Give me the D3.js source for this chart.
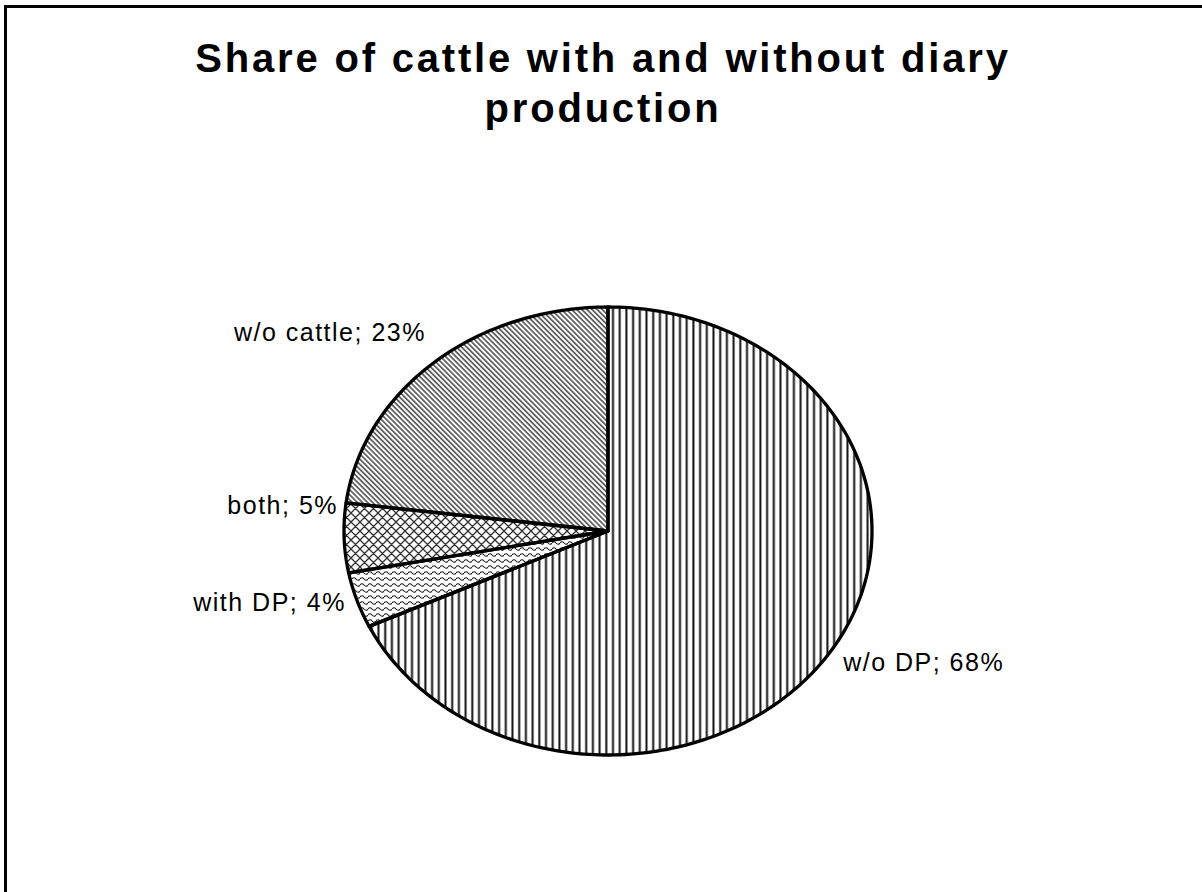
<!DOCTYPE html>
<html>
<head>
<meta charset="utf-8">
<script src="https://cdn.jsdelivr.net/npm/d3@7"></script>
<style>
  body { margin: 0; background: #fff; }
  svg { display: block; }
</style>
</head>
<body>
<div id="chart"></div>
<script>
// data
var categories = ["w/o DP", "with DP", "both", "w/o cattle"];
var shares = [68, 4, 5, 23];
var fills = ["url(#vert)", "url(#wave)", "url(#cross)", "url(#diag)"];
var titleLines = ["Share of cattle with and without diary", "production"];

var width = 1202, height = 892;

var svg = d3.select("#chart")
            .append("svg")
            .attr("width", width)
            .attr("height", height);

var defs = svg.append("defs");

// vertical lines
var p1 = defs.append("pattern").attr("id", "vert")
  .attr("patternUnits", "userSpaceOnUse").attr("width", 6.7).attr("height", 10);
p1.append("rect").attr("width", 6.7).attr("height", 10).attr("fill", "#fff");
p1.append("line").attr("x1", 3.3).attr("x2", 3.3).attr("y1", 0).attr("y2", 10)
  .attr("stroke", "#111").attr("stroke-width", 2);

// fine diagonal "\" lines
var p2 = defs.append("pattern").attr("id", "diag")
  .attr("patternUnits", "userSpaceOnUse").attr("width", 3.6).attr("height", 10)
  .attr("patternTransform", "rotate(-45)");
p2.append("rect").attr("width", 3.6).attr("height", 10).attr("fill", "#fff");
p2.append("line").attr("x1", 1.8).attr("x2", 1.8).attr("y1", 0).attr("y2", 10)
  .attr("stroke", "#444").attr("stroke-width", 1.5);

// diagonal cross hatch
var p3 = defs.append("pattern").attr("id", "cross")
  .attr("patternUnits", "userSpaceOnUse").attr("width", 9).attr("height", 9);
p3.append("rect").attr("width", 9).attr("height", 9).attr("fill", "#fff");
p3.append("path").attr("d", "M0,0L9,9M9,0L0,9M-1,8L1,10M8,-1L10,1M-1,1L1,-1M8,10L10,8")
  .attr("stroke", "#333").attr("stroke-width", 1.3).attr("fill", "none");

// waves
var p4 = defs.append("pattern").attr("id", "wave")
  .attr("patternUnits", "userSpaceOnUse").attr("width", 8).attr("height", 6);
p4.append("rect").attr("width", 8).attr("height", 6).attr("fill", "#fff");
p4.append("path").attr("d", "M0,3Q2,0.5 4,3T8,3")
  .attr("stroke", "#222").attr("stroke-width", 1.2).attr("fill", "none");

// frame
svg.append("rect")
  .attr("x", 5.5).attr("y", 6.5)
  .attr("width", width + 20).attr("height", height + 20)
  .attr("fill", "none").attr("stroke", "#000").attr("stroke-width", 3);

// title
svg.append("g").selectAll("text")
  .data(titleLines)
  .enter().append("text")
  .attr("x", 603)
  .attr("y", function(d, i) { return 72 + i * 50; })
  .attr("text-anchor", "middle")
  .style("font-family", "'Liberation Sans', Arial, sans-serif")
  .style("font-weight", "bold")
  .style("font-size", "40px")
  .style("letter-spacing", "2.8px")
  .text(function(d) { return d; });

// pie (an ellipse in the original)
var cx = 608, cy = 531, rx = 264, ry = 224;

var pie = d3.pie().sort(null).value(function(d) { return d; });
var arcs = pie(shares);

function ellPt(a, k) {
  k = k || 1;
  return [cx + rx * k * Math.sin(a), cy - ry * k * Math.cos(a)];
}

var line = d3.line();

function slicePath(d) {
  var n = Math.max(2, Math.ceil((d.endAngle - d.startAngle) / 0.02));
  var pts = [[cx, cy]];
  d3.range(n + 1).forEach(function(i) {
    pts.push(ellPt(d.startAngle + (d.endAngle - d.startAngle) * i / n));
  });
  return line(pts) + "Z";
}

var g = svg.append("g").attr("class", "pie");

g.selectAll("path.fill")
  .data(arcs)
  .enter().append("path")
  .attr("class", "fill")
  .attr("d", slicePath)
  .attr("fill", function(d, i) { return fills[i]; })
  .attr("stroke", "none");

// outlines on top so no fill hides half of a border
g.selectAll("path.edge")
  .data(arcs)
  .enter().append("path")
  .attr("class", "edge")
  .attr("d", slicePath)
  .attr("fill", "none")
  .attr("stroke", "#000")
  .attr("stroke-width", 3.3)
  .attr("stroke-linejoin", "round");

// labels outside the pie, Excel-style
var labelK = [1.037, 1.028, 1.008, 1.02];
var labelDy = [7, 0, -33, -27];

g.selectAll("text")
  .data(arcs)
  .enter().append("text")
  .each(function(d, i) {
    var mid = (d.startAngle + d.endAngle) / 2;
    var p = ellPt(mid, labelK[i]);
    var right = Math.sin(mid) > 0;
    d3.select(this)
      .attr("x", p[0] + (right ? 4 : -4))
      .attr("y", p[1] + labelDy[i])
      .attr("dy", "0.35em")
      .attr("text-anchor", right ? "start" : "end");
  })
  .style("font-family", "'Liberation Sans', Arial, sans-serif")
  .style("font-size", "25px")
  .style("letter-spacing", "1.5px")
  .text(function(d, i) { return categories[i] + "; " + shares[i] + "%"; });
</script>
</body>
</html>
